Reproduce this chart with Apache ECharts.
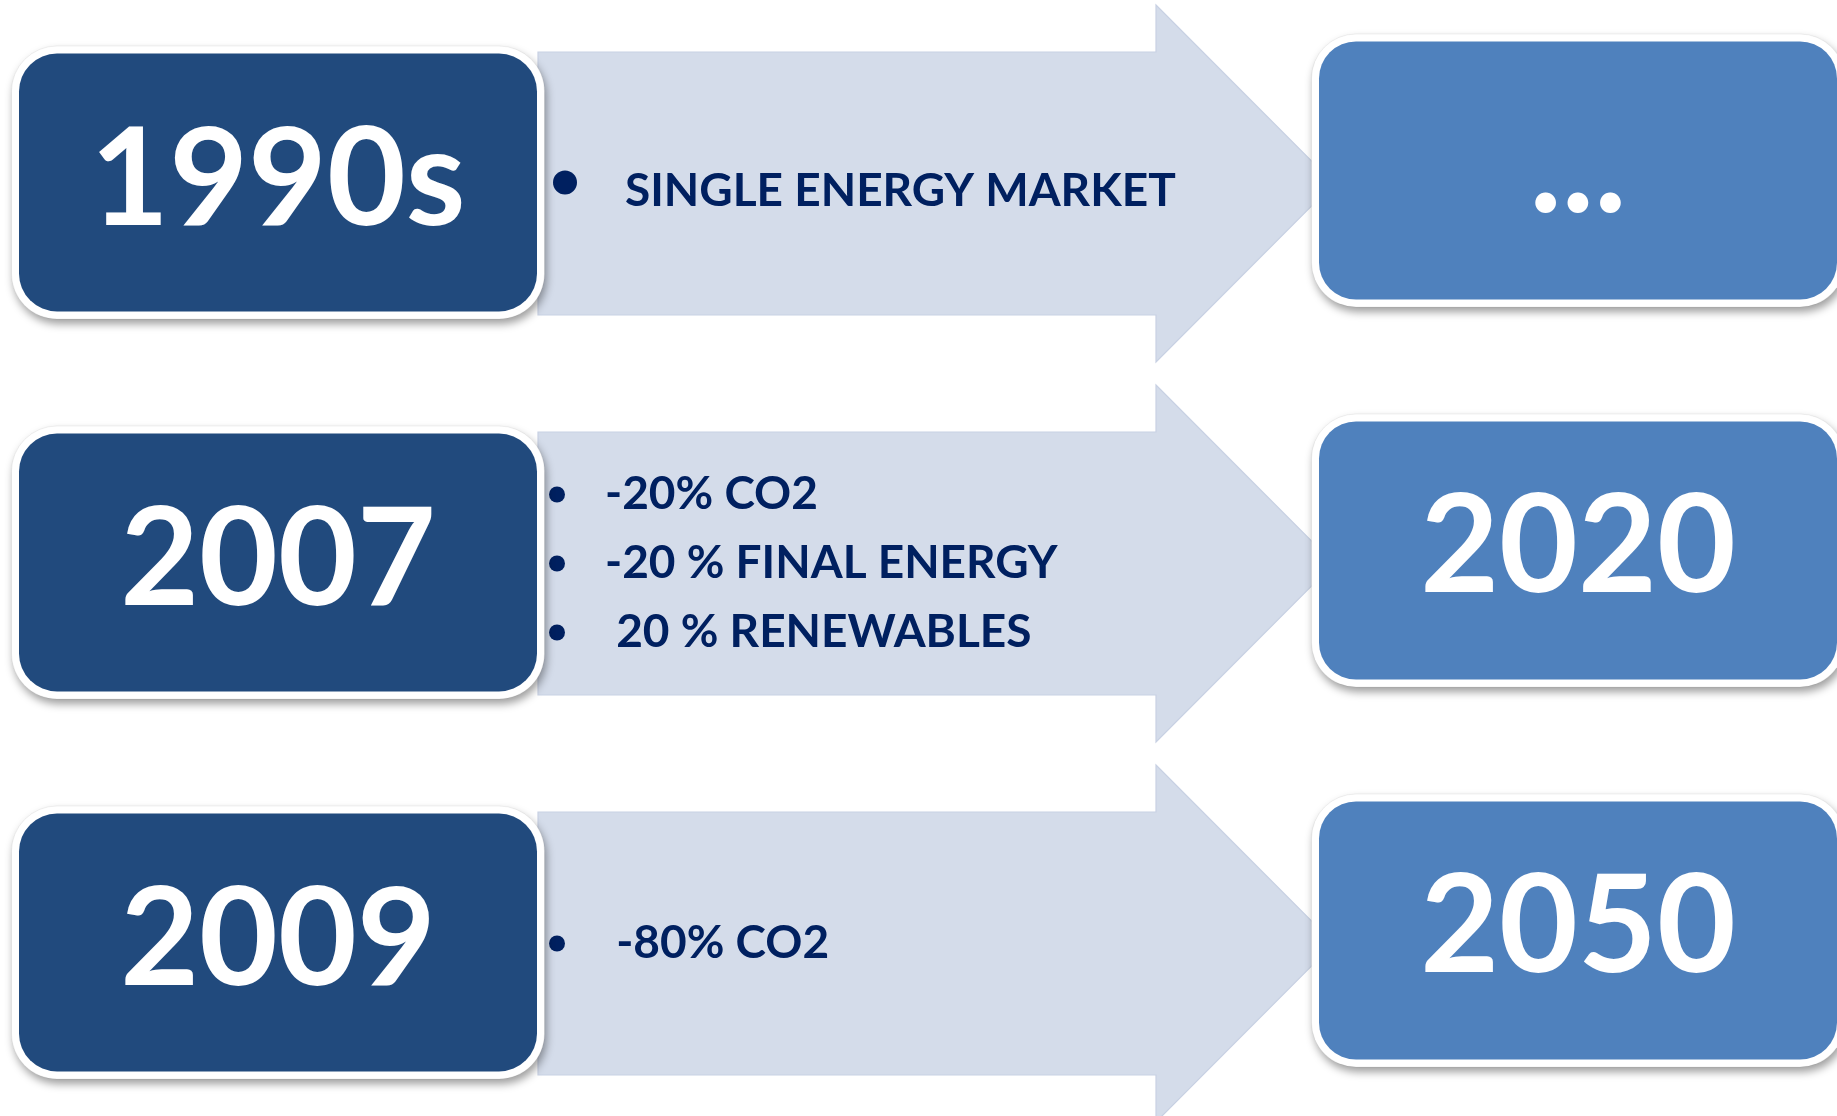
<!DOCTYPE html>
<html><head><meta charset="utf-8">
<script src="https://cdn.jsdelivr.net/npm/echarts@6/dist/echarts.min.js"></script>
<style>html,body{margin:0;padding:0;background:#fff;overflow:hidden}#c{width:1837px;height:1116px}</style>
</head><body><div id="c"></div>
<script>
// ---- content ----
const periods = ['1990s', '2007', '2009'];
const targets = ['...', '2020', '2050'];
const bulletLines = [
  ['SINGLE ENERGY MARKET'],
  ['-20% CO2', '-20 % FINAL ENERGY', ' 20 % RENEWABLES'],
  [' -80% CO2']
];
const rowIndex = [0, 1, 2];

// ---- layout / style (px, relative to row centre) ----
const L = {
  leftBox: { x: 19, w: 518, dy: -130, h: 258, r: 38 },
  rightBox: { x: 1319, w: 518, dy: -142, h: 258, r: 37 },
  border: 7.5,
  arrow: { x0: 538, x1: 1156, x2: 1334, body: 131.5, head: 178.5 },
  leftText: { x: 278, dy: -2 },
  rightText: { x: 1578, dy: -15 },
  bigFont: 136,
  smallFont: 46,
  lineGap: 69,
  bulletX: [565, 557, 557],
  bulletR: [12, 8, 8],
  bulletDy: [-9, 0, 0],
  textX: [625, 605, 605],
  rowDy: [8, 0, 0]
};
const C = { left: '#214A7D', right: '#4F81BD', arrow: '#D4DCEA', arrowEdge: '#C8D1E3', text: '#002060', white: '#FFFFFF' };
const FONT = 'Lato';

const chart = echarts.init(document.getElementById('c'), null, { renderer: 'canvas' });

function boxGroup(x0, cy, b, tx, fill, label, textDy) {
  const bd = L.border;
  return [
    { type: 'rect', shape: { x: x0 + b.x - bd, y: cy + b.dy - bd, width: b.w + 2 * bd, height: b.h + 2 * bd, r: b.r + bd },
      style: { fill: C.white, stroke: 'rgba(0,0,0,0.06)', lineWidth: 1, shadowBlur: 8, shadowOffsetX: 2, shadowOffsetY: 5, shadowColor: 'rgba(0,0,0,0.38)' } },
    { type: 'rect', shape: { x: x0 + b.x, y: cy + b.dy, width: b.w, height: b.h, r: b.r },
      style: { fill: fill } },
    { type: 'text', x: x0 + tx, y: cy + textDy,
      style: { text: label, fill: C.white, fontFamily: FONT, fontWeight: 'bold', fontSize: L.bigFont, align: 'center', verticalAlign: 'middle' } }
  ];
}

function renderItem(params, api) {
  const i = api.value(1);
  const p = api.coord([0, i]);
  const x0 = p[0], cy = p[1];
  const a = L.arrow;
  const children = [];
  // arrow
  children.push({
    type: 'polygon',
    shape: { points: [
      [x0 + a.x0, cy - a.body], [x0 + a.x1, cy - a.body], [x0 + a.x1, cy - a.head],
      [x0 + a.x2, cy], [x0 + a.x1, cy + a.head], [x0 + a.x1, cy + a.body], [x0 + a.x0, cy + a.body]
    ] },
    style: { fill: C.arrow, stroke: C.arrowEdge, lineWidth: 1.2 }
  });
  // bullets
  const lines = bulletLines[i];
  const n = lines.length;
  lines.forEach(function (t, k) {
    const ly = cy + L.rowDy[i] + (k - (n - 1) / 2) * L.lineGap;
    children.push({ type: 'circle', shape: { cx: x0 + L.bulletX[i], cy: ly + L.bulletDy[i], r: L.bulletR[i] }, style: { fill: C.text } });
    children.push({ type: 'text', x: x0 + L.textX[i], y: ly,
      style: { text: t, fill: C.text, fontFamily: FONT, fontWeight: 'bold', fontSize: L.smallFont, align: 'left', verticalAlign: 'middle' } });
  });
  boxGroup(x0, cy, L.leftBox, L.leftText.x, C.left, periods[i], L.leftText.dy).forEach(function (e) { children.push(e); });
  boxGroup(x0, cy, L.rightBox, L.rightText.x, C.right, targets[i], L.rightText.dy).forEach(function (e) { children.push(e); });
  return { type: 'group', children: children };
}

// row pitch 380px, first row centred at 183.5px in a 1116px-high grid
const PITCH = 380, FIRST = 183.5, H = 1116;
chart.setOption({
  animation: false,
  grid: { left: 0, right: 0, top: 0, bottom: 0 },
  xAxis: { type: 'value', min: 0, max: 1837, show: false },
  yAxis: { type: 'value', inverse: true, show: false, min: -FIRST / PITCH, max: (H - FIRST) / PITCH },
  series: [{
    type: 'custom',
    coordinateSystem: 'cartesian2d',
    clip: false,
    renderItem: renderItem,
    data: rowIndex.map(function (i) { return [0, i]; })
  }]
});
</script>
</body></html>
